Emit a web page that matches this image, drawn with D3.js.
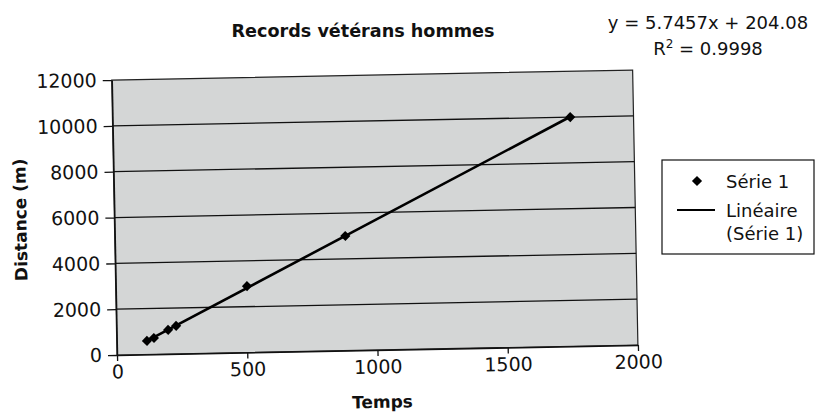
<!DOCTYPE html>
<html>
<head>
<meta charset="utf-8">
<script src="https://cdn.jsdelivr.net/npm/d3@7"></script>
<style>
  html, body { margin: 0; padding: 0; background: #fff; }
  svg { display: block; }
  text { font-family: "DejaVu Sans", "Liberation Sans", Arial, sans-serif; fill: #111; }
</style>
</head>
<body>
<svg id="chart" width="816" height="416"></svg>
<script>
// ---- Data ----
const times = [116, 143, 198, 229, 504, 885, 1757];          // Temps (s)
const distances = [590, 710, 1050, 1220, 2900, 5000, 10000]; // Distance (m)
const xTicks = [0, 500, 1000, 1500, 2000];
const yTicks = [0, 2000, 4000, 6000, 8000, 10000, 12000];
const titleText = "Records vétérans hommes";
const xLabel = "Temps";
const yLabel = "Distance (m)";
const equationText = "y = 5.7457x + 204.08";
const r2Value = "0.9998";
const legendLabels = ["Série 1", "Linéaire", "(Série 1)"];

const svg = d3.select("#chart");
const L = 117, R = 638, T = 80, B = 355;
const tilt = -1.1; // the scanned chart is slightly tilted

const x = d3.scaleLinear().domain([0, 2000]).range([L, R]);
const y = d3.scaleLinear().domain([0, 12000]).range([B, T]);

const plot = svg.append("g").attr("transform", `rotate(${tilt},${L},${B})`);

// Plot area background
plot.append("rect")
  .attr("x", L).attr("y", T).attr("width", R - L).attr("height", B - T)
  .attr("fill", "#d4d6d6").attr("stroke", "#222").attr("stroke-width", 1.2);

// Gridlines
plot.append("g").selectAll("line")
  .data(yTicks.filter(v => v > 0 && v < 12000))
  .join("line")
  .attr("x1", L).attr("x2", R)
  .attr("y1", d => y(d)).attr("y2", d => y(d))
  .attr("stroke", "#111").attr("stroke-width", 1.3);

// Axes
const yAxis = plot.append("g")
  .attr("transform", `translate(${L},0)`)
  .call(d3.axisLeft(y).tickValues(yTicks).tickFormat(d3.format("d"))
    .tickSize(9).tickSizeOuter(0).tickPadding(6));
const xAxis = plot.append("g")
  .attr("transform", `translate(0,${B})`)
  .call(d3.axisBottom(x).tickValues(xTicks).tickFormat(d3.format("d"))
    .tickSize(6).tickSizeOuter(0).tickPadding(4));
[yAxis, xAxis].forEach(g => {
  g.selectAll("path.domain").attr("stroke", "#111").attr("stroke-width", 1.5);
  g.selectAll(".tick line").attr("stroke", "#111").attr("stroke-width", 1.3);
  g.selectAll("text").attr("font-size", 19)
    .attr("font-family", '"DejaVu Sans", Arial, sans-serif').attr("fill", "#111");
});

// Linear trend (least squares of the series), from min to max x
const mx = d3.mean(times), my = d3.mean(distances);
const slope = d3.sum(times.map((t, i) => (t - mx) * (distances[i] - my))) /
              d3.sum(times.map(t => (t - mx) * (t - mx)));
const intercept = my - slope * mx;
const tr = d3.extent(times);
plot.append("path")
  .datum(tr)
  .attr("d", d3.line().x(d => x(d)).y(d => y(slope * d + intercept)))
  .attr("stroke", "#000").attr("stroke-width", 2.6).attr("fill", "none");

// Points (diamonds)
const diamond = d3.symbol().type(d3.symbolSquare).size(52);
plot.append("g").selectAll("path")
  .data(times.map((t, i) => [t, distances[i]]))
  .join("path")
  .attr("d", diamond)
  .attr("transform", d => `translate(${x(d[0])},${y(d[1])}) rotate(45)`)
  .attr("fill", "#000");

// Axis titles
plot.append("text").attr("x", (L + R) / 2 + 4).attr("y", 413).attr("text-anchor", "middle")
  .attr("font-size", 17).attr("font-weight", "bold").text(xLabel);
plot.append("text").attr("transform", `translate(29,218) rotate(-90)`)
  .attr("text-anchor", "middle").attr("font-size", 17).attr("font-weight", "bold").text(yLabel);

// Title
svg.append("text").attr("x", 363).attr("y", 37).attr("text-anchor", "middle")
  .attr("font-size", 17.6).attr("font-weight", "bold").text(titleText);

// Equation
svg.append("text").attr("x", 708).attr("y", 29).attr("text-anchor", "middle")
  .attr("font-size", 18).text(equationText);
const r2 = svg.append("text").attr("x", 708).attr("y", 55).attr("text-anchor", "middle")
  .attr("font-size", 18);
r2.append("tspan").text("R");
r2.append("tspan").attr("font-size", 12).attr("dy", -7).text("2");
r2.append("tspan").attr("dy", 7).text(" = " + r2Value);

// Legend
const lg = svg.append("g");
lg.append("rect").attr("x", 662).attr("y", 160).attr("width", 152).attr("height", 94)
  .attr("fill", "#fff").attr("stroke", "#111").attr("stroke-width", 1.2);
lg.append("path").attr("d", diamond).attr("transform", "translate(697,181) rotate(45)").attr("fill", "#000");
lg.append("text").attr("x", 726).attr("y", 188).attr("font-size", 18).text(legendLabels[0]);
lg.append("line").attr("x1", 677).attr("x2", 715).attr("y1", 210).attr("y2", 210)
  .attr("stroke", "#000").attr("stroke-width", 2);
lg.append("text").attr("x", 726).attr("y", 217).attr("font-size", 18).text(legendLabels[1]);
lg.append("text").attr("x", 726).attr("y", 240).attr("font-size", 18).text(legendLabels[2]);
</script>
</body>
</html>
